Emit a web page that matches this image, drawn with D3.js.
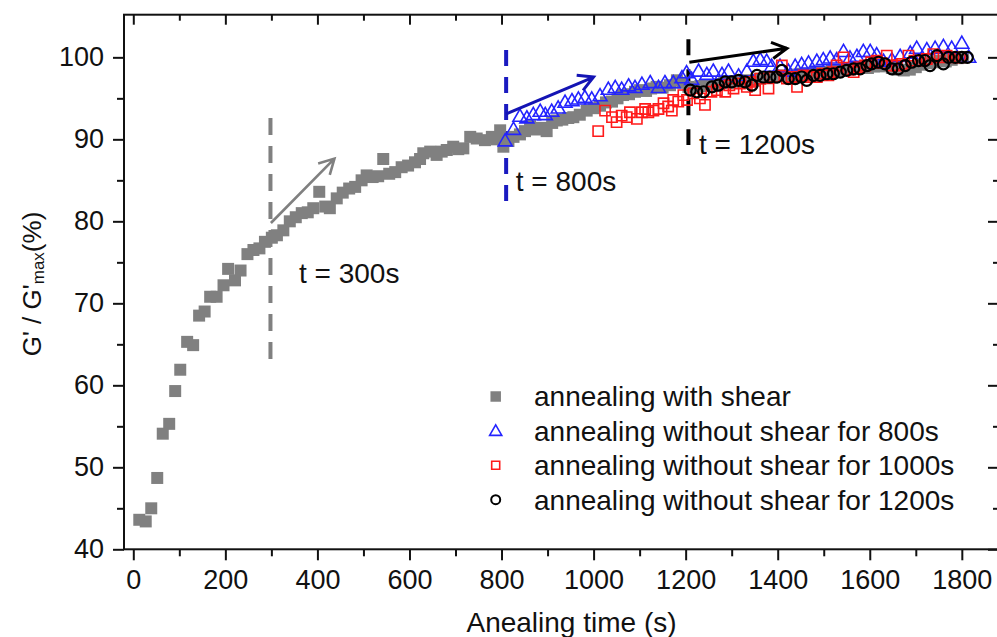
<!DOCTYPE html>
<html>
<head>
<meta charset="utf-8">
<script src="https://cdn.jsdelivr.net/npm/d3@7"></script>
<style>
  body { margin: 0; background: #fff; }
  svg { font-family: "Liberation Sans", Arial, sans-serif; }
</style>
</head>
<body>
<div id="chart"></div>
<script>
// annealing with shear: [time (s), G'/G'max (%)]
const withShear = [
  [13,43.6],[27,43.4],[39,45.0],[52,48.7],[64,54.1],[78,55.3],[91,59.3],[102,61.9],[117,65.3],[130,64.9],
  [143,68.5],[155,69.0],[167,70.8],[181,70.8],[196,72.2],[206,74.2],[221,72.8],[233,74.0],[248,76.0],[261,76.5],
  [274,76.7],[286,77.5],[301,78.0],[312,78.3],[326,78.9],[340,80.0],[353,80.5],[366,81.0],[379,81.1],[391,81.6],
  [404,83.6],[417,81.8],[427,81.6],[442,82.8],[455,83.5],[469,84.0],[482,84.2],[496,85.0],[507,85.6],[520,85.4],
  [532,85.5],[543,87.6],[556,85.8],[569,86.0],[583,86.6],[597,86.8],[612,87.2],[623,87.6],[630,88.3],[645,88.5],
  [659,88.1],[670,88.5],[681,88.7],[695,89.1],[706,88.8],[717,88.9],[732,90.3],[746,90.1],[764,89.9],[779,90.3],
  [790,90.0],[797,91.1],[804,89.1],[815,89.8],[826,90.3],[840,90.6],[851,91.0],[862,91.6],[875,91.2],[887,91.4],
  [898,91.0],[910,92.0],[920,92.3],[932,92.4],[945,92.6],[956,92.7],[970,93.0],[985,93.5],[1000,93.8],[1014,94.1],
  [1027,94.5],[1040,94.6],[1052,95.0],[1064,95.4],[1077,95.5],[1090,95.8],[1101,96.0],[1114,95.9],[1125,96.2],[1137,96.4],
  [1150,96.3],[1166,96.6],[1181,97.2],[1193,96.9],[1206,96.4],[1219,96.3],[1232,96.5],[1245,96.6],[1258,96.5],[1271,96.7],
  [1284,96.9],[1297,96.9],[1310,97.1],[1323,97.0],[1336,97.2],[1349,97.1],[1362,97.4],[1375,97.6],[1388,97.5],[1401,97.7],
  [1414,97.8],[1427,97.6],[1440,97.9],[1453,98.0],[1466,97.8],[1479,98.1],[1492,98.2],[1505,98.1],[1518,98.4],[1531,98.3],
  [1544,98.6],[1557,98.5],[1570,98.7],[1583,98.8],[1596,98.7],[1609,98.9],[1622,98.9],[1635,99.0],[1648,98.7],[1661,98.5],
  [1674,98.4],[1687,98.5],[1700,98.8],[1713,99.1],[1726,99.3],[1739,99.4],[1752,99.6],[1765,99.5],[1778,99.7],[1791,99.9],
  [1803,100.0]
];
// annealing without shear for 800s
const noShear800 = [
  [808,89.7],[826,91.1],[840,92.7],[855,92.5],[869,92.9],[884,93.3],[895,92.9],[909,93.3],[923,93.7],[938,94.4],
  [953,94.6],[967,94.8],[981,95.0],[996,94.8],[1014,95.2],[1032,96.0],[1047,96.2],[1061,96.0],[1076,96.4],[1090,96.2],
  [1105,96.6],[1123,96.8],[1141,96.2],[1155,96.8],[1173,96.8],[1192,97.4],[1202,98.0],[1213,97.2],[1228,98.2],[1246,97.8],
  [1260,98.2],[1279,97.8],[1293,98.2],[1315,97.6],[1333,98.2],[1347,99.4],[1362,99.6],[1376,99.4],[1387,98.8],[1405,98.8],
  [1423,98.2],[1438,98.8],[1452,99.0],[1467,99.2],[1485,99.4],[1499,99.6],[1514,99.8],[1528,99.6],[1543,100.6],[1557,99.8],
  [1572,100.0],[1586,100.6],[1601,100.6],[1615,100.2],[1630,99.4],[1648,99.6],[1666,100.0],[1688,100.4],[1702,101.0],[1724,100.8],
  [1742,101.0],[1760,101.2],[1778,101.0],[1800,101.6],[1815,99.9]
];
// annealing without shear for 1000s
const noShear1000 = [
  [1010,91.0],[1025,93.5],[1040,92.7],[1050,92.1],[1061,92.9],[1072,92.7],[1079,93.3],[1094,92.5],[1105,93.3],[1112,93.7],
  [1119,93.3],[1130,93.5],[1141,93.7],[1152,94.4],[1162,94.0],[1170,93.5],[1173,94.8],[1184,94.6],[1195,95.4],[1203,94.8],
  [1217,95.6],[1231,95.0],[1242,94.2],[1256,95.8],[1268,96.0],[1286,95.8],[1295,96.6],[1304,96.2],[1318,96.8],[1333,96.4],
  [1341,97.0],[1351,96.0],[1362,97.4],[1380,96.2],[1392,97.6],[1409,99.0],[1420,97.4],[1430,97.6],[1442,96.4],[1456,97.8],
  [1470,97.6],[1485,97.6],[1497,98.0],[1510,97.8],[1520,98.2],[1528,99.0],[1543,100.0],[1553,98.5],[1565,98.2],[1577,98.8],
  [1590,99.0],[1603,99.4],[1615,99.6],[1626,99.3],[1637,100.2],[1648,99.0],[1659,99.0],[1670,99.2],[1684,100.2],[1697,99.6],
  [1710,99.6],[1724,99.8],[1738,100.4],[1752,100.0],[1767,100.2],[1782,100.0],[1796,100.0]
];
// annealing without shear for 1200s
const noShear1200 = [
  [1210,96.0],[1224,95.8],[1239,95.8],[1257,96.4],[1271,96.6],[1286,97.0],[1300,97.0],[1315,97.2],[1329,97.0],[1344,96.6],
  [1355,97.8],[1369,97.6],[1383,97.6],[1398,97.6],[1409,98.4],[1423,97.4],[1438,97.4],[1452,97.6],[1463,97.2],[1478,97.8],
  [1492,97.8],[1507,98.0],[1521,98.0],[1536,98.2],[1550,98.4],[1565,98.6],[1579,98.6],[1594,99.0],[1604,99.2],[1619,99.4],
  [1633,99.2],[1648,98.6],[1662,98.6],[1677,99.0],[1691,99.4],[1706,99.6],[1720,99.6],[1731,99.0],[1746,100.2],[1760,99.2],
  [1771,100.0],[1786,100.0],[1800,100.0],[1812,100.0]
];

const xTicks = [0, 200, 400, 600, 800, 1000, 1200, 1400, 1600, 1800];
const xMinor = [100, 300, 500, 700, 900, 1100, 1300, 1500, 1700];
const yTicks = [40, 50, 60, 70, 80, 90, 100];
const yMinor = [45, 55, 65, 75, 85, 95];
const legendLabels = [
  "annealing with shear",
  "annealing without shear for 800s",
  "annealing without shear for 1000s",
  "annealing without shear for 1200s"
];
// dashed markers at the switch times: [time, from value, to value]
const switchLines = [[298, 61.9, 92.6], [810, 81.7, 100.9], [1206, 89.3, 102.2]];
// arrows: [t0, v0, t1, v1]
const arrows = [[299, 79.8, 437, 87.65], [810, 93.1, 1000, 97.6], [1208, 99.4, 1420, 101.1]];
const notes = [["t = 300s", 360, 72.45], ["t = 800s", 831, 83.7], ["t = 1200s", 1229, 88.2]];

const W = 997, H = 637;
const svg = d3.select("#chart").append("svg").attr("width", W).attr("height", H);

const x = d3.scaleLinear().domain([-20.2, 1878.6]).range([124, 998]);
const y = d3.scaleLinear().domain([40, 105.2]).range([549.3, 14.7]);

// axes
const axStyle = g => {
  g.select(".domain").remove();
  g.selectAll("line").attr("stroke", "#111").attr("stroke-width", 2);
  g.selectAll("text").attr("fill", "#111").style("font-size", "27px");
};
svg.append("g").attr("transform", "translate(0,549.3)")
  .call(d3.axisBottom(x).tickValues(xTicks).tickSize(11).tickPadding(10).tickFormat(d3.format("d")))
  .call(axStyle);
svg.append("g").attr("transform", "translate(0,549.3)")
  .call(d3.axisBottom(x).tickValues(xMinor).tickSize(7).tickFormat("")).call(axStyle);
svg.append("g").attr("transform", "translate(0,14.7)")
  .call(d3.axisBottom(x).tickValues(xTicks).tickSize(10).tickFormat("")).call(axStyle);
svg.append("g").attr("transform", "translate(0,14.7)")
  .call(d3.axisBottom(x).tickValues(xMinor).tickSize(6).tickFormat("")).call(axStyle);
svg.append("g").attr("transform", "translate(124,0)")
  .call(d3.axisLeft(y).tickValues(yTicks).tickSize(11).tickPadding(9))
  .call(axStyle);
svg.append("g").attr("transform", "translate(124,0)")
  .call(d3.axisLeft(y).tickValues(yMinor).tickSize(7).tickFormat("")).call(axStyle);
svg.append("g").attr("transform", "translate(999,0)")
  .call(d3.axisLeft(y).tickValues(yTicks).tickSize(11).tickFormat("")).call(axStyle);
svg.append("g").attr("transform", "translate(999,0)")
  .call(d3.axisLeft(y).tickValues(yMinor).tickSize(6).tickFormat("")).call(axStyle);

// frame (right edge falls just outside the window)
svg.append("rect").attr("x", 124).attr("y", 14.7).attr("width", 876).attr("height", 534.6)
  .attr("fill", "none").attr("stroke", "#111").attr("stroke-width", 2);

// dashed switch lines
const dashCol = ["#808080", "#1a1ac0", "#000"];
const dashPat = ["17,11", "16,11", "16,14"];
svg.selectAll(".sw").data(switchLines).enter().append("line")
  .attr("x1", d => x(d[0])).attr("x2", d => x(d[0]))
  .attr("y1", d => y(d[2])).attr("y2", d => y(d[1]))
  .attr("stroke", (d, i) => dashCol[i]).attr("stroke-width", 4)
  .attr("stroke-dasharray", (d, i) => dashPat[i]);

// series
const sq = d3.symbol().type(d3.symbolSquare);
svg.append("g").selectAll("path").data(withShear).enter().append("path")
  .attr("transform", d => `translate(${x(d[0])},${y(d[1])})`)
  .attr("d", sq.size(144)()).attr("fill", "#808080");

svg.append("g").selectAll("path").data(noShear800).enter().append("path")
  .attr("transform", d => `translate(${x(d[0])},${y(d[1])})`)
  .attr("d", d3.symbol().type(d3.symbolTriangle).size(85)())
  .attr("fill", "none").attr("stroke", "#2424ff").attr("stroke-width", 1.6);

svg.append("g").selectAll("path").data(noShear1000).enter().append("path")
  .attr("transform", d => `translate(${x(d[0])},${y(d[1])})`)
  .attr("d", sq.size(105)())
  .attr("fill", "none").attr("stroke", "#ff1a1a").attr("stroke-width", 1.6);

svg.append("g").selectAll("circle").data(noShear1200).enter().append("circle")
  .attr("cx", d => x(d[0])).attr("cy", d => y(d[1])).attr("r", 5.5)
  .attr("fill", "none").attr("stroke", "#000").attr("stroke-width", 2.2);

// arrows
const arrCol = ["#808080", "#1414b4", "#000"];
arrows.forEach((a, i) => {
  const x0 = x(a[0]), y0 = y(a[1]), x1 = x(a[2]), y1 = y(a[3]);
  const ang = Math.atan2(y1 - y0, x1 - x0), L = 17, sp = 0.5;
  const p = d3.path();
  p.moveTo(x0, y0); p.lineTo(x1, y1);
  p.moveTo(x1 - L * Math.cos(ang - sp), y1 - L * Math.sin(ang - sp));
  p.lineTo(x1, y1);
  p.lineTo(x1 - L * Math.cos(ang + sp), y1 - L * Math.sin(ang + sp));
  svg.append("path").attr("d", p.toString()).attr("fill", "none")
    .attr("stroke", arrCol[i]).attr("stroke-width", i === 0 ? 2.6 : 3)
    .attr("stroke-linejoin", "miter");
});

// annotations
svg.selectAll(".note").data(notes).enter().append("text")
  .attr("x", d => x(d[1])).attr("y", d => y(d[2]))
  .style("font-size", "28px").attr("fill", "#111").text(d => d[0]);

// legend
const lg = svg.append("g");
const rowY = i => 396.5 + i * 34.4;
lg.append("path").attr("transform", `translate(495.7,${rowY(0)})`)
  .attr("d", sq.size(110)()).attr("fill", "#808080");
lg.append("path").attr("transform", `translate(495.7,${rowY(1) + 1})`)
  .attr("d", d3.symbol().type(d3.symbolTriangle).size(64)())
  .attr("fill", "none").attr("stroke", "#2424ff").attr("stroke-width", 1.6);
lg.append("path").attr("transform", `translate(495.7,${rowY(2)})`)
  .attr("d", sq.size(64)()).attr("fill", "none").attr("stroke", "#ff1a1a").attr("stroke-width", 1.6);
lg.append("circle").attr("cx", 495.7).attr("cy", rowY(3)).attr("r", 4.5)
  .attr("fill", "none").attr("stroke", "#000").attr("stroke-width", 2);
lg.selectAll("text").data(legendLabels).enter().append("text")
  .attr("x", 534).attr("y", (d, i) => rowY(i) + 9.8)
  .style("font-size", "28px").attr("fill", "#111").text(d => d);

// axis titles
svg.append("text").attr("x", 571.5).attr("y", 631.5).attr("text-anchor", "middle")
  .style("font-size", "28px").attr("fill", "#111").text("Anealing time (s)");

const yt = svg.append("text").attr("transform", "translate(41,284) rotate(-90)")
  .attr("text-anchor", "middle").style("font-size", "26px").attr("fill", "#111");
yt.append("tspan").text("G' / G'");
yt.append("tspan").attr("dy", 3).style("font-size", "17px").text("max");
yt.append("tspan").attr("dy", -3).text("(%)");
</script>
</body>
</html>
